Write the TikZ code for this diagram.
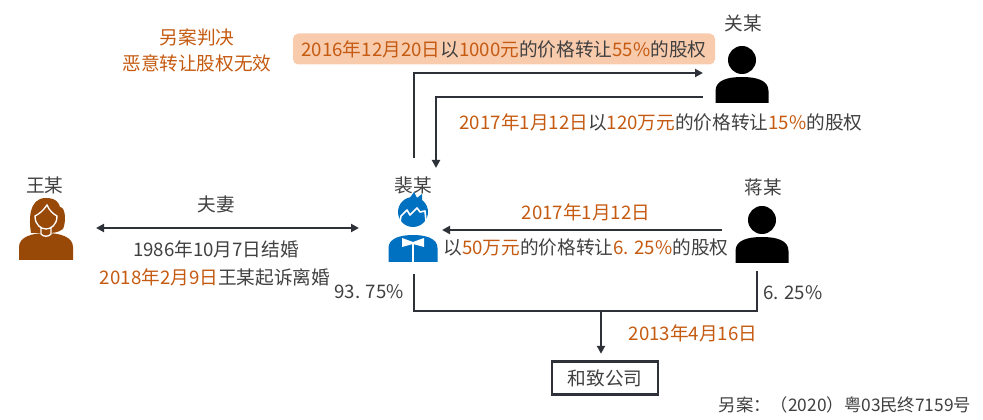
\documentclass[tikz,border=0pt]{standalone}
\usepackage{fontspec}
\setmainfont{Noto Sans CJK SC}
\usetikzlibrary{arrows.meta}
\definecolor{org}{HTML}{C55A11}
\definecolor{txt}{HTML}{404040}
\definecolor{ln}{HTML}{2E3238}
\definecolor{peach}{HTML}{F8CBAD}
\definecolor{wbrown}{HTML}{984807}
\definecolor{mblue}{HTML}{0070C0}
\begin{document}
\begin{tikzpicture}[x=0.75pt,y=-0.75pt,
  lbl/.style={text=txt,font=\fontsize{14}{16}\selectfont,inner sep=0pt},
  olbl/.style={lbl,text=org},
  conn/.style={draw=ln,line width=1.6pt},
  tipend/.style={-{Triangle[length=6pt,width=6pt]}},
  person/.pic={
    \fill (0,-17) circle (14);
    \fill (-26.5,26) -- (-26.5,14) .. controls (-26.5,3) and (-14,0) .. (0,0)
      .. controls (14,0) and (26.5,3) .. (26.5,14) -- (26.5,26) -- cycle;
  },
  boy/.pic={
    \fill[mblue] (-24.5,27) -- (-24.5,13) .. controls (-24.5,3) and (-12,0) .. (0,0)
      .. controls (12,0) and (24.5,3) .. (24.5,13) -- (24.5,27) -- cycle;
    \fill[white] (-11,3) -- (0,7) -- (11,3) -- (11,12) -- (0,9) -- (-11,12) -- cycle;
    \draw[white,line width=0.9pt] (0,9) -- (0,27);
    \fill[mblue] (0,-23) circle (15);
    \fill[mblue] (-4,-36) -- (1,-43) -- (4,-37) -- (9,-41) -- (9,-33) -- cycle;
    \draw[white,line width=1.2pt,line join=round] (-13,-13) -- (-12,-19) -- (-6,-25) -- (-3,-20) -- (4,-27) -- (7,-23) -- (12,-24) -- (13,-14);
  },
  girl/.pic={
    \fill[wbrown] (-27,27) -- (-27,14) .. controls (-27,4) and (-14,0) .. (0,0)
      .. controls (14,0) and (27,4) .. (27,14) -- (27,27) -- cycle;
    \fill[wbrown] (-15,0) .. controls (-17,-12) and (-18,-35) .. (0,-35)
      .. controls (10,-35) and (13,-30) .. (14,-26)
      .. controls (20,-26) and (20,-10) .. (17,-4)
      .. controls (12,0) and (6,0) .. (0,0) -- cycle;
    \draw[white,line width=1pt,fill=wbrown] (-11,-17) .. controls (-11,-8) and (-5,-4) .. (0,-4)
      .. controls (5,-4) and (11,-8) .. (11,-17)
      .. controls (7,-19) and (3,-23) .. (1,-28)
      .. controls (-3,-22) and (-7,-19) .. (-11,-17) -- cycle;
    \draw[white,line width=1pt] (-5,-5) -- (-5,1) .. controls (-3,4) and (3,4) .. (5,1) -- (5,-5);
  }]
\useasboundingbox (0,0) rectangle (983,420);

% texts top-left
\node[olbl] (judge1) at (197,37) {另案判决};
\node[olbl] (judge2) at (197,63) {恶意转让股权无效};

% peach box
\node[lbl,fill=peach,rounded corners=4pt,minimum width=316.5pt,minimum height=23.25pt] (deal1) at (504,49)
  {\textcolor{org}{2016年12月20日}以\textcolor{org}{1000元}的价格转让\textcolor{org}{55\%}的股权};

% people
\node[lbl] (guanlbl) at (743,23) {关某};
\pic[black] (guan) at (742,77) {person};
\node[lbl] (wanglbl) at (45,185) {王某};
\pic (wang) at (46,233) {girl};
\node[lbl] (peilbl) at (413,185) {裴某};
\pic (pei) at (413,235) {boy};
\node[lbl] (jianglbl) at (763,187) {蒋某};
\pic[black] (jiang) at (762,237) {person};

% arrow 1 (pei -> guan)
\coordinate (a1s) at (414,158);
\coordinate (a1e) at (703,73);
\draw[conn,tipend] (a1s) |- (a1e);
% arrow 2 (guan -> pei)
\coordinate (a2s) at (703,97);
\coordinate (a2e) at (436,168);
\draw[conn,tipend] (a2s) -| (a2e);
\node[lbl] (deal2) at (661,122)
  {\textcolor{org}{2017年1月12日}以\textcolor{org}{120万元}的价格转让\textcolor{org}{15\%}的股权};

% marriage
\coordinate (mL) at (96,228);
\coordinate (mR) at (359,228);
\draw[conn,{Triangle[length=6pt,width=6pt]}-{Triangle[length=6pt,width=6pt]}] (mL) -- (mR);
\node[lbl] (couple) at (216,204) {夫妻};
\node[lbl] (wed) at (216,249) {1986年10月7日结婚};
\node[lbl] (divorce) at (215,277) {\textcolor{org}{2018年2月9日}王某起诉离婚};

% arrow 3 (jiang -> pei)
\coordinate (a3s) at (722,230);
\coordinate (a3e) at (442,230);
\draw[conn,tipend] (a3s) -- (a3e);
\node[olbl] (deal3a) at (586,212) {2017年1月12日};
\node[lbl] (deal3b) at (586,247)
  {以\textcolor{org}{50万元}的价格转让\textcolor{org}{6. 25\%}的股权};

% shareholding bracket
\coordinate (bL) at (414,275);
\coordinate (bR) at (757,272);
\coordinate (bM) at (601,311);
\draw[conn,line cap=rect] (bL) |- (bR |- bM) -- (bR);
\node[lbl] (pct1) at (369,292) {93. 75\%};
\node[lbl] (pct2) at (793,293) {6. 25\%};

% company
\node[lbl,draw=ln,line width=1.8pt,minimum width=79.5pt,minimum height=24.5pt] (co) at (605,378) {和致公司};
\draw[conn,tipend,shorten >=5pt] (bM) -- (bM |- co.north);
\node[olbl] (estab) at (693,333) {2013年4月16日};

\node[lbl,font=\fontsize{13}{15}\selectfont] (ref) at (845,405) {另案：（2020）粤03民终7159号};
\end{tikzpicture}
\end{document}
